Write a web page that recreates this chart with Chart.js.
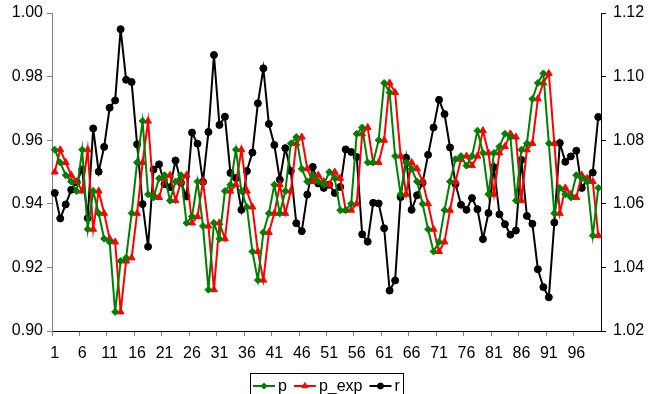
<!DOCTYPE html>
<html>
<head>
<meta charset="utf-8">
<script src="https://cdn.jsdelivr.net/npm/chart.js"></script>
<style>
  body { margin: 0; background: #fff; }
  #wrap { width: 649px; height: 394px; position: relative; }
</style>
</head>
<body>
<div id="wrap"><canvas id="chart"></canvas></div>
<script>
// categories 1..100
const categories = [
  1, 2, 3, 4, 5, 6, 7, 8, 9, 10, 11, 12, 13, 14, 15, 16, 17, 18, 19, 20,
  21, 22, 23, 24, 25, 26, 27, 28, 29, 30, 31, 32, 33, 34, 35, 36, 37, 38, 39, 40,
  41, 42, 43, 44, 45, 46, 47, 48, 49, 50, 51, 52, 53, 54, 55, 56, 57, 58, 59, 60,
  61, 62, 63, 64, 65, 66, 67, 68, 69, 70, 71, 72, 73, 74, 75, 76, 77, 78, 79, 80,
  81, 82, 83, 84, 85, 86, 87, 88, 89, 90, 91, 92, 93, 94, 95, 96, 97, 98, 99, 100
];

// p (left axis)
const pValues = [
  0.957, 0.953, 0.949, 0.947, 0.944, 0.957, 0.932, 0.944, 0.937, 0.929,
  0.928, 0.906, 0.922, 0.923, 0.937, 0.953, 0.966, 0.943, 0.942, 0.948,
  0.949, 0.941, 0.947, 0.949, 0.934, 0.936, 0.947, 0.933, 0.913, 0.934,
  0.929, 0.944, 0.946, 0.957, 0.944, 0.939, 0.925, 0.916, 0.931, 0.937,
  0.946, 0.937, 0.944, 0.959, 0.961, 0.951, 0.947, 0.949, 0.947, 0.946,
  0.950, 0.948, 0.938, 0.938, 0.940, 0.962, 0.964, 0.953, 0.953, 0.960,
  0.978, 0.975, 0.955, 0.943, 0.953, 0.951, 0.947, 0.940, 0.932, 0.925,
  0.928, 0.938, 0.947, 0.954, 0.955, 0.952, 0.955, 0.963, 0.956, 0.943,
  0.956, 0.958, 0.962, 0.961, 0.941, 0.957, 0.959, 0.973, 0.978, 0.981,
  0.959, 0.937, 0.945, 0.943, 0.942, 0.949, 0.948, 0.947, 0.930, 0.945
];

// p_exp (left axis)
const pExpValues = [
  0.950, 0.957, 0.953, 0.949, 0.947, 0.944, 0.957, 0.932, 0.944, 0.937,
  0.929, 0.928, 0.906, 0.922, 0.923, 0.937, 0.953, 0.966, 0.943, 0.942,
  0.948, 0.949, 0.941, 0.947, 0.949, 0.934, 0.936, 0.947, 0.933, 0.913,
  0.934, 0.929, 0.944, 0.946, 0.957, 0.944, 0.939, 0.925, 0.916, 0.931,
  0.937, 0.946, 0.937, 0.944, 0.959, 0.961, 0.951, 0.947, 0.949, 0.947,
  0.946, 0.950, 0.948, 0.938, 0.938, 0.940, 0.962, 0.964, 0.953, 0.953,
  0.960, 0.978, 0.975, 0.955, 0.943, 0.953, 0.951, 0.947, 0.940, 0.932,
  0.925, 0.928, 0.938, 0.947, 0.954, 0.955, 0.952, 0.955, 0.963, 0.956,
  0.943, 0.956, 0.958, 0.962, 0.961, 0.941, 0.957, 0.959, 0.973, 0.978,
  0.981, 0.959, 0.937, 0.945, 0.943, 0.942, 0.949, 0.948, 0.947, 0.930
];

// r (right axis)
const rValues = [
  1.0634, 1.0554, 1.0598, 1.0644, 1.0668, 1.0708, 1.0555, 1.0837, 1.0701, 1.0779,
  1.0902, 1.0925, 1.1149, 1.0990, 1.0983, 1.0787, 1.0599, 1.0465, 1.0708, 1.0724,
  1.0662, 1.0652, 1.0736, 1.0666, 1.0623, 1.0824, 1.0789, 1.0669, 1.0826, 1.1068,
  1.0848, 1.0874, 1.0697, 1.0681, 1.0581, 1.0703, 1.0761, 1.0916, 1.1026, 1.0851,
  1.0785, 1.0676, 1.0775, 1.0703, 1.0539, 1.0514, 1.0629, 1.0716, 1.0664, 1.0650,
  1.0660, 1.0634, 1.0653, 1.0771, 1.0763, 1.0747, 1.0504, 1.0481, 1.0603, 1.0601,
  1.0523, 1.0327, 1.0359, 1.0621, 1.0745, 1.0581, 1.0627, 1.0666, 1.0754, 1.0840,
  1.0927, 1.0882, 1.0777, 1.0662, 1.0597, 1.0581, 1.0618, 1.0583, 1.0489, 1.0571,
  1.0715, 1.0567, 1.0536, 1.0503, 1.0516, 1.0738, 1.0562, 1.0537, 1.0394, 1.0338,
  1.0306, 1.0541, 1.0791, 1.0732, 1.0749, 1.0767, 1.0650, 1.0677, 1.0698, 1.0873
];

const FONT = '"Liberation Sans", Arial, sans-serif';

// legend drawn as a framed box under the axis, line + marker samples
const legendBox = {
    id: 'legendBox',
    afterDraw(chart) {
        const {ctx, chartArea} = chart;
        ctx.save();
        ctx.font = '16px ' + FONT;
        const sample = 22, gapText = 3, gapItem = 7, pad = 3;
        const items = chart.data.datasets.map(ds => ({
            ds, w: sample + gapText + ctx.measureText(ds.label).width
        }));
        const total = items.reduce((s, it) => s + it.w, 0) + gapItem * (items.length - 1) + pad * 2;
        let x = Math.round((chartArea.left + chartArea.right) / 2 - total / 2);
        const top = 373, cy = 386;
        ctx.strokeStyle = '#000';
        ctx.lineWidth = 1;
        ctx.strokeRect(x + 0.5, top + 0.5, Math.round(total), 30);
        x += pad;
        items.forEach(({ds, w}) => {
            ctx.strokeStyle = ds.borderColor;
            ctx.fillStyle = ds.borderColor;
            ctx.lineWidth = 2;
            ctx.beginPath();
            ctx.moveTo(x, cy);
            ctx.lineTo(x + sample, cy);
            ctx.stroke();
            ctx.lineWidth = 1;
            Chart.helpers.drawPoint(ctx, {pointStyle: ds.pointStyle, radius: ds.pointRadius - 0.5, rotation: 0, borderWidth: 1}, x + sample / 2, cy);
            ctx.fillStyle = '#000';
            ctx.textBaseline = 'middle';
            ctx.textAlign = 'left';
            ctx.fillText(ds.label, x + sample + gapText, cy + 1);
            x += w + gapItem;
        });
        ctx.restore();
    }
};

// fixed axis widths, no extra end padding so the plot spans 13..328
const fixWidth = w => scale => {
    scale.width = w;
    scale.paddingTop = 0;
    scale.paddingBottom = 0;
};

document.addEventListener('DOMContentLoaded', () => {
    const ctx = document.getElementById('chart').getContext('2d');
    new Chart(ctx, {
        type: 'line',
        data: {
            labels: categories,
            datasets: [
                {
                    label: 'p',
                    data: pValues,
                    yAxisID: 'y',
                    borderColor: '#008000',
                    backgroundColor: '#008000',
                    pointStyle: 'rectRot',
                    pointRadius: 3.5
                },
                {
                    label: 'p_exp',
                    data: pExpValues,
                    yAxisID: 'y',
                    borderColor: '#ff0000',
                    backgroundColor: '#ff0000',
                    pointStyle: 'triangle',
                    pointRadius: 4
                },
                {
                    label: 'r',
                    data: rValues,
                    yAxisID: 'y1',
                    borderColor: '#000000',
                    backgroundColor: '#000000',
                    pointStyle: 'circle',
                    pointRadius: 3.5
                }
            ]
        },
        options: {
            responsive: true,
            maintainAspectRatio: false,
            animation: false,
            layout: { padding: { top: 13, bottom: 27, left: 0, right: 0 } },
            elements: {
                line: { borderWidth: 2, tension: 0 },
                point: { borderWidth: 1, hoverRadius: 4 }
            },
            plugins: {
                legend: { display: false },
                tooltip: { enabled: false }
            },
            scales: {
                x: {
                    type: 'category',
                    offset: true,
                    afterFit: scale => { scale.height = 36; },
                    border: { color: '#000', width: 1 },
                    grid: {
                        offset: true,
                        drawOnChartArea: false,
                        tickLength: 5,
                        color: c => (c.index % 5 === 0 ? '#808080' : 'rgba(0,0,0,0)')
                    },
                    ticks: {
                        autoSkip: false,
                        maxRotation: 0,
                        padding: 8,
                        color: '#000',
                        font: { family: FONT, size: 16 },
                        callback: (v, i) => (i % 5 === 0 ? String(categories[i]) : '')
                    }
                },
                y: {
                    position: 'left',
                    min: 0.90,
                    max: 1.00,
                    afterFit: fixWidth(52),
                    border: { color: '#808080', width: 1 },
                    grid: { drawOnChartArea: false, tickLength: 5, color: '#808080' },
                    ticks: {
                        stepSize: 0.02,
                        padding: 4,
                        color: '#000',
                        font: { family: FONT, size: 16 },
                        callback: v => v.toFixed(2)
                    }
                },
                y1: {
                    position: 'right',
                    min: 1.02,
                    max: 1.12,
                    afterFit: fixWidth(48),
                    border: { color: '#000', width: 1 },
                    grid: { drawOnChartArea: false, tickLength: 5, color: '#000' },
                    ticks: {
                        stepSize: 0.02,
                        padding: 7,
                        color: '#000',
                        font: { family: FONT, size: 16 },
                        callback: v => v.toFixed(2)
                    }
                }
            }
        },
        plugins: [legendBox]
    });
});
</script>
</body>
</html>
